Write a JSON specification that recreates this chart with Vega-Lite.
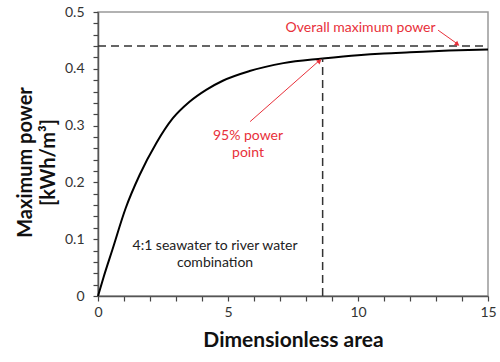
{
  "$schema": "https://vega.github.io/schema/vega-lite/v6.json",
  "width": 390,
  "height": 284,
  "autosize": {"type": "none"},
  "padding": {"left": 98, "top": 12, "right": 12, "bottom": 66},
  "background": "white",
  "config": {
    "view": {"stroke": "#999999", "strokeWidth": 1.5},
    "font": "Lato",
    "axis": {
      "grid": false,
      "zindex": 1,
      "domainColor": "#555555",
      "domainWidth": 1.5,
      "tickColor": "#444444",
      "tickSize": 5,
      "tickWidth": 1.2,
      "labelFont": "Lato",
      "labelFontSize": 14,
      "labelColor": "#333333",
      "titleFont": "Lato",
      "titleColor": "#111111",
      "titleFontWeight": "bold"
    }
  },
  "layer": [
    {
      "data": {"values": [
        {"x": 0, "y": 0}, {"x": 0.22, "y": 0.034}, {"x": 0.55, "y": 0.081}, {"x": 1.06, "y": 0.154},
        {"x": 1.6, "y": 0.213}, {"x": 2.24, "y": 0.269}, {"x": 2.88, "y": 0.313}, {"x": 3.52, "y": 0.342},
        {"x": 4.16, "y": 0.363}, {"x": 4.8, "y": 0.379}, {"x": 5.83, "y": 0.396}, {"x": 7.13, "y": 0.41},
        {"x": 8.64, "y": 0.418}, {"x": 10, "y": 0.424}, {"x": 11, "y": 0.427}, {"x": 12, "y": 0.429},
        {"x": 13.5, "y": 0.432}, {"x": 15, "y": 0.434}
      ]},
      "mark": {"type": "line", "color": "#000000", "strokeWidth": 2, "interpolate": "monotone"},
      "encoding": {
        "x": {
          "field": "x", "type": "quantitative",
          "scale": {"domain": [0, 15], "nice": false, "zero": false},
          "axis": {
            "values": [0,1,2,3,4,5,6,7,8,9,10,11,12,13,14,15],
            "tickCount": 100,
            "labelExpr": "datum.value % 5 == 0 ? format(datum.value, 'd') : ''",
            "labelOverlap": false,
            "labelFlush": false,
            "labelBound": false,
            "labelPadding": 4,
            "title": "Dimensionless area",
            "titleFontSize": 21,
            "titleY": 44,
            "titleBaseline": "middle"
          }
        },
        "y": {
          "field": "y", "type": "quantitative",
          "scale": {"domain": [0, 0.5], "nice": false},
          "axis": {
            "values": [0,0.02,0.04,0.06,0.08,0.1,0.12,0.14,0.16,0.18,0.2,0.22,0.24,0.26,0.28,0.3,0.32,0.34,0.36,0.38,0.4,0.42,0.44,0.46,0.48,0.5],
            "tickCount": 100,
            "labelExpr": "abs(round(datum.value*10) - datum.value*10) < 0.001 ? format(datum.value, '.1~f') : ''",
            "labelOverlap": false,
            "labelFlush": false,
            "labelBound": false,
            "labelPadding": 9,
            "title": ["Maximum power", "[kWh/m³]"],
            "titleFontSize": 20,
            "titleX": -73,
            "titleY": 150,
            "titleAngle": -90,
            "titleAlign": "center",
            "titleBaseline": "middle",
            "titleLineHeight": 23
          }
        }
      }
    },
    {
      "data": {"values": [{"x": 0, "x2": 15, "y": 0.44}]},
      "mark": {"type": "rule", "color": "#333333", "strokeWidth": 1.5, "strokeDash": [8, 5]},
      "encoding": {
        "x": {"field": "x", "type": "quantitative"},
        "x2": {"field": "x2"},
        "y": {"field": "y", "type": "quantitative"}
      }
    },
    {
      "data": {"values": [{"x": 8.64, "y": 0, "y2": 0.418}]},
      "mark": {"type": "rule", "color": "#333333", "strokeWidth": 1.5, "strokeDash": [8, 5]},
      "encoding": {
        "x": {"field": "x", "type": "quantitative"},
        "y": {"field": "y", "type": "quantitative"},
        "y2": {"field": "y2"}
      }
    },
    {
      "data": {"values": [
        {"x": 5.85, "y": 0.307, "x2": 8.55, "y2": 0.416},
        {"x": 13.08, "y": 0.468, "x2": 13.85, "y2": 0.443}
      ]},
      "mark": {"type": "rule", "color": "#e8303a", "strokeWidth": 1},
      "encoding": {
        "x": {"field": "x", "type": "quantitative"},
        "y": {"field": "y", "type": "quantitative"},
        "x2": {"field": "x2"},
        "y2": {"field": "y2"}
      }
    },
    {
      "data": {"values": [
        {"x": 8.5, "y": 0.413, "angle": 49},
        {"x": 13.8, "y": 0.444, "angle": 127}
      ]},
      "mark": {"type": "point", "shape": "triangle", "filled": true, "color": "#e8303a", "opacity": 1, "size": 30},
      "encoding": {
        "x": {"field": "x", "type": "quantitative"},
        "y": {"field": "y", "type": "quantitative"},
        "angle": {"field": "angle", "type": "quantitative", "scale": null}
      }
    },
    {
      "data": {"values": [
        {"x": 10.1, "y": 0.471, "label": "Overall maximum power"},
        {"x": 5.77, "y": 0.281, "label": "95% power"},
        {"x": 5.77, "y": 0.251, "label": "point"}
      ]},
      "mark": {"type": "text", "color": "#e8303a", "fontSize": 14, "font": "Lato", "align": "center", "baseline": "middle"},
      "encoding": {
        "x": {"field": "x", "type": "quantitative"},
        "y": {"field": "y", "type": "quantitative"},
        "text": {"field": "label"}
      }
    },
    {
      "data": {"values": [
        {"x": 4.5, "y": 0.0886, "label": "4:1 seawater to river water"},
        {"x": 4.5, "y": 0.058, "label": "combination"}
      ]},
      "mark": {"type": "text", "color": "#222222", "fontSize": 14, "font": "Lato", "align": "center", "baseline": "middle"},
      "encoding": {
        "x": {"field": "x", "type": "quantitative"},
        "y": {"field": "y", "type": "quantitative"},
        "text": {"field": "label"}
      }
    }
  ]
}
